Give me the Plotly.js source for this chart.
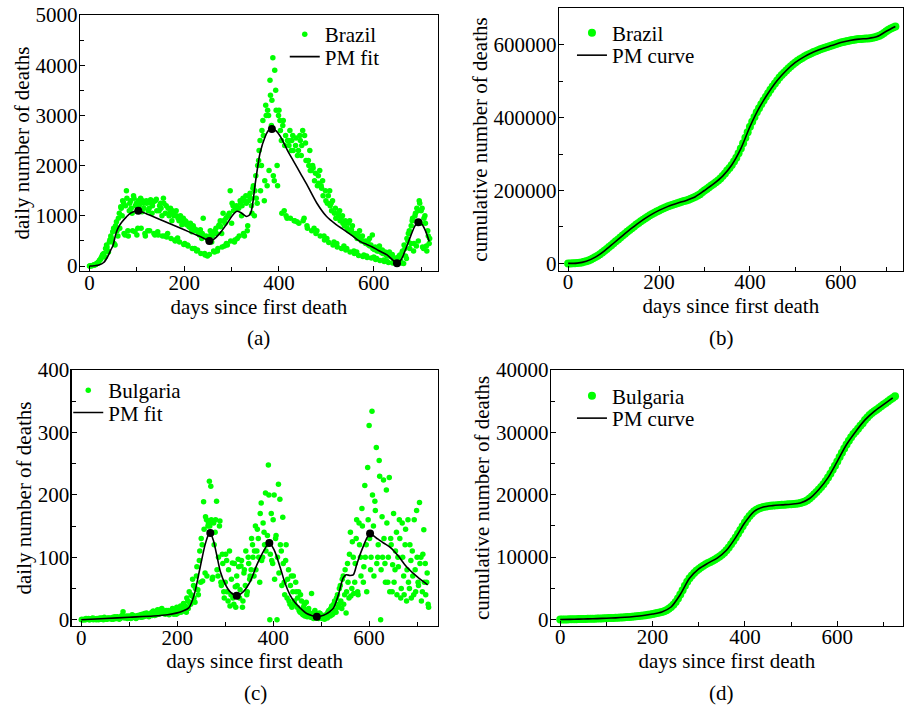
<!DOCTYPE html>
<html>
<head>
<meta charset="utf-8">
<script src="https://cdn.plot.ly/plotly-3.0.1.min.js"></script>
<style>html,body{margin:0;padding:0;background:#fff;}#chart{width:904px;height:706px;}</style>
</head>
<body>
<div id="chart"></div>
<script>
// ---------- Brazil: daily deaths (two interleaved samples: days 0,3,6,... and 1,4,7,...) ----------
const brazilDaily = [
  1,4,9,18,25,48,67,
  110,140,210,250,180,420,300,
  480,600,520,750,420,880,600,
  1050,1180,1000,1260,620,1500,700,
  1100,1300,1050,1400,680,1250,750,
  1200,1350,1080,1250,650,1300,700,
  1150,1320,1050,1280,620,1330,680,
  1100,1250,1000,1350,600,1200,650,
  1000,1150,900,1050,520,1100,560,
  900,1000,820,950,450,880,420,
  780,850,680,800,350,720,320,
  650,720,550,950,250,600,200,
  520,700,480,650,280,750,300,
  800,900,650,1050,400,950,420,
  1000,1500,850,1200,480,1150,550,
  1150,1300,1000,1350,600,1400,700,
  1300,1450,1200,1550,1000,1800,1250,
  2100,2500,2000,2900,1300,3200,1600,
  3000,3700,2800,4150,1700,3500,2000,
  3000,2900,2500,2800,1100,2600,950,
  2500,2700,2300,2600,900,2400,880,
  2300,2600,2200,2700,950,2450,800,
  2100,2300,1900,2000,750,1850,700,
  1800,1900,1600,1700,600,1500,550,
  1400,1500,1250,1300,480,1150,450,
  1050,1100,950,1000,400,900,350,
  850,900,700,800,300,650,280,
  620,700,550,600,220,500,200,
  500,550,420,620,180,380,150,
  350,400,300,320,120,280,100,
  250,280,200,230,80,160,60,
  120,200,100,280,50,350,150,
  500,700,450,900,300,1000,400,
  1100,1300,850,1150,350,1000,400,
  700,450
];
const brazilDailyB = [
  1,5,11,20,30,55,80,
  120,170,230,190,350,380,280,
  520,560,680,450,800,700,950,
  750,1150,1300,650,1200,1350,600,
  1250,1150,700,1350,1200,620,1300,
  1250,750,1300,1150,600,1250,1100,
  700,1250,1200,650,1300,1100,620,
  1200,1150,600,1250,1050,580,1150,
  1050,550,1100,1000,500,1000,950,
  480,950,880,430,900,820,400,
  800,750,350,760,700,300,680,
  620,250,650,600,220,580,520,
  230,620,600,300,700,650,350,
  820,780,380,900,850,450,1000,
  1050,500,1250,1100,520,1200,1150,
  600,1250,1200,650,1300,1250,800,
  1400,1350,1050,1600,1500,1350,2000,
  2300,1500,2700,2600,1700,3000,3100,
  1900,3400,3300,1800,3900,3100,1600,
  3100,2700,1050,2900,2400,1000,2500,
  2400,950,2500,2300,900,2550,2200,
  850,2500,2400,900,2600,2100,750,
  2000,1900,700,1950,1700,650,1600,
  1650,600,1550,1400,520,1300,1250,
  470,1200,1100,420,1050,950,380,
  1000,900,350,850,800,320,750,
  700,280,720,650,250,600,550,
  210,550,500,190,480,450,170,
  420,400,160,350,330,130,300,
  300,110,270,250,90,230,200,
  70,200,180,60,150,130,40,
  180,220,60,300,420,200,550,
  650,350,800,950,450,1050,1150,
  500,1250,1100,380,950,850,300,
  600,550
];
const dailyStep = 3;

// Brazil PM fit (daily)
const brazilFitDays = [0,10,20,30,38,45,50,55,60,68,78,88,103,120,140,160,180,200,220,240,253,262,275,290,303,311,320,332,340,350,360,371,378,385,394,403,417,430,445,460,480,500,520,537,555,572,585,596,610,628,640,649,658,668,678,687,694,702,710,717];
const brazilFitValues = [0,5,20,70,180,320,420,620,750,870,980,1060,1100,1040,960,880,800,720,640,560,500,530,650,840,1020,1090,1060,985,1050,1650,2250,2580,2700,2730,2690,2580,2320,2100,1850,1600,1250,990,830,720,600,485,430,385,310,220,120,54,130,350,600,800,870,830,680,490];
const brazilPeakDays = [103,253,385,649,694];
const brazilPeakValues = [1100,500,2730,54,870];

// Brazil cumulative, every 5 days from day 0
const brazilCum = [
  0,30,120,350,800,1600,2700,4200,6000,8200,10800,13800,17200,21000,25200,29800,34600,39600,44800,50000,55300,
  60600,65900,71100,76300,81500,86600,91600,96600,101500,106400,
  111000,115500,119800,124000,128000,131800,135400,138900,142300,145500,
  148500,151300,154000,156500,158900,161100,163200,165200,167100,169000,
  170900,172900,175000,177400,180000,183000,186300,190000,195000,200000,
  204500,209000,213500,218000,222500,227500,233000,239500,246500,255000,
  262000,270000,279500,290000,302000,315000,330000,345000,360000,375000,
  389000,402000,414500,426000,437000,447000,457000,467000,476500,485500,
  494000,502000,510000,517000,523500,529500,535500,541000,546500,551500,
  556000,560000,564000,567500,571000,574000,577000,580000,582500,585000,
  587500,590000,592000,594000,596000,598000,600000,602000,604000,606000,
  607500,609000,610500,611800,613000,614000,614900,615600,616100,616500,
  616900,617400,618100,619100,620500,622500,625000,628500,632500,637000,
  641000,644500,647500,650000
];
const cumStep = 5;
// Brazil PM curve (cumulative), every 20 days
const brazilCumFit = [0,800,6000,17200,34600,55300,76300,96600,115500,131800,145500,156500,165200,172900,183000,200000,218000,239500,270000,315000,375000,426000,467000,502000,529500,551500,567500,580000,590000,598000,606000,611800,615600,617400,622500,637000,650000];
const cumFitStep = 20;

// ---------- Bulgaria: daily deaths (days 0,3,6,... and 1,4,7,...) ----------
const bulgariaDaily = [
  0,0,1,0,1,2,0,1,3,2,
  1,2,0,3,2,1,4,2,1,3,
  2,1,4,3,2,5,3,2,6,13,
  3,5,2,6,4,3,7,5,2,6,
  5,8,4,7,10,6,9,5,8,12,
  14,7,11,16,9,13,18,10,12,15,
  11,8,14,10,16,12,9,18,13,22,
  15,26,20,12,30,45,25,38,55,28,
  70,48,95,60,120,189,75,160,150,222,
  214,65,155,140,190,70,150,60,105,45,
  60,95,30,110,40,91,25,53,70,97,
  35,86,20,75,55,40,100,65,80,120,
  70,150,110,130,60,187,100,140,203,120,
  248,0,170,90,200,130,0,217,193,110,
  164,60,95,35,80,25,70,45,30,60,
  20,45,12,30,8,25,15,5,18,10,
  42,5,12,3,8,2,10,4,6,1,
  8,3,15,6,22,10,30,12,40,25,
  55,18,70,40,11,90,35,140,50,100,
  60,130,45,155,100,178,60,215,120,244,
  311,80,334,150,190,276,100,255,0,165,
  224,90,208,60,228,130,45,170,80,140,
  100,160,35,155,70,120,30,160,50,95,
  110,40,80,175,60,188,100,45,144,90,
  60,25
];
const bulgariaDailyB = [
  1,0,0,2,1,0,1,2,0,1,
  0,1,2,1,3,0,2,1,3,2,
  3,2,1,5,2,4,1,3,7,4,
  4,6,3,5,2,8,4,6,3,7,
  6,4,9,5,7,11,8,6,10,7,
  9,12,8,15,10,17,11,14,9,13,
  15,10,12,18,9,14,20,11,16,12,
  18,14,22,35,18,28,40,65,35,50,
  85,40,110,130,62,145,165,70,155,150,
  160,68,120,160,80,100,158,55,90,35,
  105,45,80,22,65,35,90,20,55,85,
  48,95,30,80,110,45,90,70,130,100,
  110,80,145,100,170,95,155,120,110,135,
  200,105,95,160,65,135,100,75,120,55,
  90,40,120,65,30,55,20,70,25,45,
  35,15,40,10,20,6,28,8,12,4,
  9,2,15,6,3,11,5,2,7,4,
  5,12,9,18,8,25,15,35,20,50,
  30,65,25,80,45,60,105,38,125,42,
  90,160,40,120,70,150,85,100,45,160,
  130,100,200,70,175,90,120,230,80,100,
  130,60,155,100,45,120,88,60,110,40,
  85,130,50,100,40,145,80,60,120,35,
  70,160,45,100,55,90,30,105,60,40,
  75,20
];

const bulgariaFitDays = [0,50,100,150,180,200,212,224,231,237,244,251,258,265,269,275,282,290,300,310,324,338,352,366,380,392,402,415,425,435,445,456,470,480,491,500,510,518,526,536,546,552,560,567,574,581,588,596,602,615,630,644,660,678,700,722];
const bulgariaFitValues = [0,2,4,6,8,11,14,19,30,45,70,96,120,136,139,128,105,77,57,45,38.5,45,61,88,110,123,112,83,58,40,28,19,10,7,5,6,9,13,19,40,67,72,71,72,88,104,118,132,138,131,123,116,103,85,69,56];
const bulgariaPeakDays = [269,324,392,491,602];
const bulgariaPeakValues = [139,38.5,123,5,138];

const bulgariaCum = [
  0,3,8,15,25,35,45,55,65,75,85,95,105,115,125,135,145,160,175,190,205,
  220,235,250,265,285,305,330,355,380,410,
  440,475,510,550,590,640,690,750,810,880,
  950,1030,1110,1200,1330,1500,1720,2000,2350,2800,
  3350,4000,4700,5400,6050,6600,7050,7450,7800,8100,
  8380,8620,8840,9040,9230,9420,9620,9850,10100,10380,
  10700,11100,11550,12050,12600,13150,13750,14350,14950,15550,
  16100,16600,17000,17350,17600,17780,17920,18030,18110,18170,
  18220,18260,18290,18320,18350,18380,18400,18430,18460,18490,
  18520,18560,18610,18680,18780,18920,19120,19400,19720,20080,
  20450,20850,21250,21700,22200,22750,23350,24000,24650,25350,
  26050,26750,27400,28050,28650,29200,29750,30150,30600,31050,
  31450,32000,32400,32800,33100,33370,33640,33910,34180,34450,
  34720,34990,35260,35530,35800
];
const bulgariaCumFit = [0,25,65,105,145,205,265,355,475,640,880,1200,2000,4000,6600,8100,9040,9850,11100,13150,15550,17350,18030,18260,18380,18490,18680,19400,20850,22750,25350,28050,30150,32000,33370,34450,35530];

const panelLabels = ['(a)','(b)','(c)','(d)'];
const xTitle = 'days since first death';
const yTitleDaily = 'daily number of deaths';
const yTitleCum = 'cumulative number of deaths';

// ---------- styles ----------
const GREEN = '#00ff00';
const FONT = {family: 'Liberation Serif, Times New Roman, serif', size: 21, color: '#000'};

function greenDots(name, y, x0, size, xa, ya, legendId, show) {
  return {type:'scatter', mode:'markers', name, y, x0, dx:(size > 6 ? cumStep : dailyStep),
    xaxis:xa, yaxis:ya, marker:{color:GREEN, size}, legend:legendId, showlegend:show};
}
function blackLine(name, x, y, xa, ya, legendId) {
  const t = {type:'scatter', mode:'lines', name, y, xaxis:xa, yaxis:ya, legend:legendId,
    line:{color:'#000', width:1.6, shape:'spline', smoothing:0.8}};
  if (Array.isArray(x)) t.x = x; else { t.x0 = 0; t.dx = x; }
  return t;
}
function blackDots(x, y, xa, ya) {
  return {type:'scatter', mode:'markers', name:'turning points', x, y, xaxis:xa, yaxis:ya,
    showlegend:false, marker:{color:'#000', size:8}};
}

const traces = [
  greenDots('Brazil', brazilDaily, 0, 5.5, 'x', 'y', 'legend', true),
  greenDots('Brazil', brazilDailyB, 1, 5.5, 'x', 'y', 'legend', false),
  blackLine('PM fit', brazilFitDays, brazilFitValues, 'x', 'y', 'legend5'),
  blackDots(brazilPeakDays, brazilPeakValues, 'x', 'y'),

  greenDots('Brazil', brazilCum, 0, 8, 'x2', 'y2', 'legend2', true),
  blackLine('PM curve', cumFitStep, brazilCumFit, 'x2', 'y2', 'legend6'),

  greenDots('Bulgaria', bulgariaDaily, 0, 5.5, 'x3', 'y3', 'legend3', true),
  greenDots('Bulgaria', bulgariaDailyB, 1, 5.5, 'x3', 'y3', 'legend3', false),
  blackLine('PM fit', bulgariaFitDays, bulgariaFitValues, 'x3', 'y3', 'legend7'),
  blackDots(bulgariaPeakDays, bulgariaPeakValues, 'x3', 'y3'),

  greenDots('Bulgaria', bulgariaCum, 0, 8, 'x4', 'y4', 'legend4', true),
  blackLine('PM curve', cumFitStep, bulgariaCumFit, 'x4', 'y4', 'legend8')
];

function xAxis(domain, range, anchor) {
  return {domain, range, anchor, tick0:0, dtick:200, ticks:'inside', ticklen:5, tickwidth:1, tickcolor:'#000',
    minor:{dtick:100, ticks:'inside', ticklen:4, tickwidth:1, tickcolor:'#000'},
    showline:true, mirror:true, linecolor:'#000', linewidth:1.3, showgrid:false, zeroline:false,
    tickfont:FONT, tickformat:'d', ticklabelstandoff:-8, title:{text:xTitle, font:FONT, standoff:0}};
}
function yAxis(domain, range, anchor, dtick, title) {
  return {domain, range, anchor, tick0:0, dtick, ticks:'inside', ticklen:5, tickwidth:1, tickcolor:'#000',
    minor:{dtick:dtick/2, ticks:'inside', ticklen:4, tickwidth:1, tickcolor:'#000'},
    showline:true, mirror:true, linecolor:'#000', linewidth:1.3, showgrid:false, zeroline:false,
    tickfont:FONT, tickformat:'d', ticklabelstandoff:-3, title:{text:title, font:FONT, standoff:0}};
}
function legendAt(x, y) {
  return {x, y, xanchor:'left', yanchor:'top', bgcolor:'rgba(0,0,0,0)', borderwidth:0, font:FONT, tracegroupgap:0};
}
function label(text, x, y) {
  return {text, x, y, xref:'paper', yref:'paper', xanchor:'center', yanchor:'middle', showarrow:false, font:FONT};
}

const layout = {
  width:904, height:706, margin:{l:0, r:0, t:0, b:0},
  paper_bgcolor:'#fff', plot_bgcolor:'#fff', font:FONT,
  xaxis:  xAxis([0.0885, 0.4842], [-20, 735], 'y'),
  yaxis:  yAxis([0.6161, 0.9788], [-100, 5000], 'x', 1000, yTitleDaily),
  xaxis2: xAxis([0.6184, 0.9985], [-20, 736], 'y2'),
  yaxis2: yAxis([0.6166, 0.9882], [-20000, 700000], 'x2', 200000, yTitleCum),
  xaxis3: xAxis([0.0793, 0.4842], [-20, 743], 'y3'),
  yaxis3: yAxis([0.1133, 0.4759], [-10, 400], 'x3', 100, yTitleDaily),
  xaxis4: xAxis([0.6095, 0.9985], [-20, 741.5], 'y4'),
  yaxis4: yAxis([0.1137, 0.4759], [-1000, 40000], 'x4', 10000, yTitleCum),
  // one legend per entry so each row sits where the reference puts it
  legend:  legendAt(0.315, 0.9802),
  legend5: legendAt(0.315, 0.9483),
  legend2: legendAt(0.6327, 0.9823),
  legend6: legendAt(0.6327, 0.9504),
  legend3: legendAt(0.0755, 0.4759),
  legend7: legendAt(0.0755, 0.4443),
  legend4: legendAt(0.6327, 0.4681),
  legend8: legendAt(0.6327, 0.4363),
  annotations: [
    label(panelLabels[0], 0.2863, 0.5212),
    label(panelLabels[1], 0.7983, 0.5212),
    label(panelLabels[2], 0.2821, 0.018),
    label(panelLabels[3], 0.7983, 0.018)
  ],
  showlegend:true
};

Plotly.newPlot('chart', traces, layout, {staticPlot:true, displayModeBar:false});
</script>
</body>
</html>
